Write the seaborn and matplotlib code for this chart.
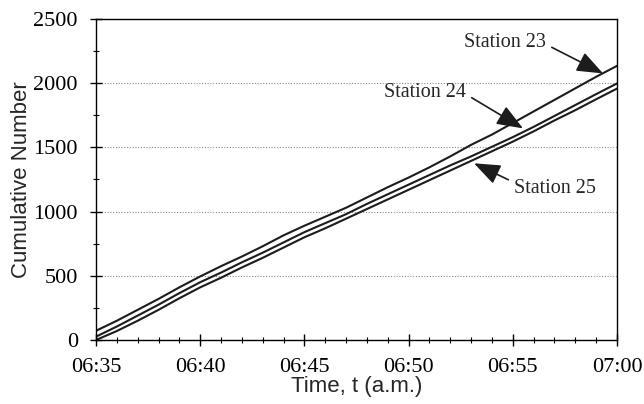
import matplotlib
matplotlib.use("Agg")
import matplotlib.pyplot as plt
import seaborn as sns
import pandas as pd
from matplotlib.ticker import MultipleLocator

minutes = list(range(0, 26))  # minutes after 06:35
station_23 = [72, 150, 235, 320, 410, 495, 575, 650, 730, 815, 890, 960, 1030,
              1110, 1190, 1265, 1345, 1430, 1520, 1600, 1690, 1780, 1870, 1960, 2050, 2135]
station_24 = [26, 105, 190, 275, 365, 450, 525, 605, 680, 760, 840, 910, 980,
              1060, 1135, 1210, 1285, 1360, 1430, 1505, 1580, 1660, 1745, 1830, 1915, 1998]
station_25 = [0, 70, 150, 235, 325, 410, 485, 565, 640, 720, 800, 870, 945,
              1020, 1095, 1170, 1245, 1320, 1395, 1470, 1545, 1625, 1710, 1790, 1875, 1958]
x_tick_pos = [0, 5, 10, 15, 20, 25]
x_tick_labels = ["06:35", "06:40", "06:45", "06:50", "06:55", "07:00"]
y_ticks = [0, 500, 1000, 1500, 2000, 2500]

df = pd.DataFrame({
    "t": minutes * 3,
    "n": station_23 + station_24 + station_25,
    "station": ["Station 23"] * 26 + ["Station 24"] * 26 + ["Station 25"] * 26,
})

sns.set_style("ticks")
plt.rcParams["font.family"] = ["Liberation Serif", "DejaVu Serif"]

fig = plt.figure(figsize=(6.44, 4.04), dpi=100)
ax = fig.add_axes([96 / 644, 64 / 404, (617 - 96) / 644, (340 - 19) / 404])

sns.lineplot(data=df, x="t", y="n", hue="station",
             palette=["#1c1c1c"] * 3, linewidth=1.5, legend=False, ax=ax)

ax.set_xlim(0, 25)
ax.set_ylim(0, 2500)
ax.set_xticks(x_tick_pos)
ax.set_xticklabels(x_tick_labels)
ax.set_yticks(y_ticks)
ax.xaxis.set_minor_locator(MultipleLocator(1))
ax.yaxis.set_minor_locator(MultipleLocator(250))
ax.tick_params(axis="both", which="major", direction="inout", length=8, width=1,
               labelsize=16, colors="black")
ax.tick_params(axis="both", which="minor", direction="inout", length=5, width=0.8,
               colors="black")
ax.tick_params(axis="x", which="major", pad=9)
ax.tick_params(axis="y", which="major", pad=9)
for s in ax.spines.values():
    s.set_visible(True)
    s.set_color("black")
    s.set_linewidth(1.0)

ax.yaxis.grid(True, which="major", linestyle=(0, (1, 1.5)), color="#888888", linewidth=0.8)
ax.set_axisbelow(True)

ax.set_xlabel("Time, t (a.m.)", fontsize=16, family=["Liberation Sans", "DejaVu Sans"], labelpad=-1)
ax.set_ylabel("Cumulative Number", fontsize=16, family=["Liberation Sans", "DejaVu Sans"], labelpad=1)

arrow = dict(arrowstyle="-|>,head_length=0.9,head_width=0.35", color="#1c1c1c",
             facecolor="#3a3a3a", lw=1.2, shrinkA=2, shrinkB=0, mutation_scale=18)
ax.annotate("Station 23", xy=(24.33, 2076), xytext=(19.63, 2317), fontsize=14.5,
            ha="center", va="center", arrowprops=dict(arrow, relpos=(1, 0.4)))
ax.annotate("Station 24", xy=(20.49, 1648), xytext=(15.79, 1928), fontsize=14.5,
            ha="center", va="center", arrowprops=dict(arrow, relpos=(1, 0.4)))
ax.annotate("Station 25", xy=(18.14, 1376), xytext=(22.03, 1182), fontsize=14.5,
            ha="center", va="center", arrowprops=dict(arrow, relpos=(0, 0.8)))

fig.savefig("out.png", dpi=100, facecolor="white")
